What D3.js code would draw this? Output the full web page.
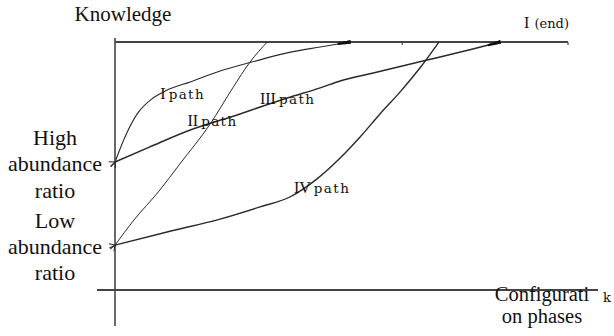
<!DOCTYPE html>
<html>
<head>
<meta charset="utf-8">
<script src="https://cdn.jsdelivr.net/npm/d3@7"></script>
<style>
  html, body { margin: 0; padding: 0; background: #fff; }
  svg { display: block; }
  .serif { font-family: "Liberation Serif", "Times New Roman", Times, "DejaVu Serif", serif; }
  .lab { font-family: "DejaVu Serif", "Liberation Serif", serif; }
</style>
</head>
<body>
<svg id="chart" width="614" height="336"></svg>
<script>
// ---- data (conceptual diagram, units 0..100 on both axes) ----
const pathI_x   = [0, 2.4, 4.9, 8.4, 11.5, 16.6, 23.2, 30.2, 38.0, 45.3, 51.9];
const pathI_y   = [51.6, 62.5, 71.0, 77.4, 80.6, 83.9, 88.3, 91.9, 95.6, 98.0, 100];
const pathB_x   = [0, 7.7, 16.6, 27.6, 32.7, 38.0, 45.3, 49.7, 57.0, 68.9, 79.0, 85.0];
const pathB_y   = [51.6, 57.7, 64.5, 71.0, 74.2, 77.4, 81.5, 84.3, 87.5, 92.7, 97.2, 100];
const pathC_x   = [0, 4.0, 9.9, 14.3, 21.0, 26.0, 29.8, 33.6];
const pathC_y   = [18.1, 27.8, 40.3, 50.8, 66.9, 81.5, 91.9, 100];
const pathIV_x  = [0, 11.5, 23.2, 32.0, 38.6, 44.6, 49.7, 54.1, 58.5, 62.9, 67.3, 71.5];
const pathIV_y  = [18.1, 23.4, 28.6, 33.5, 37.5, 44.8, 53.2, 61.7, 71.0, 79.8, 89.5, 100];
const endLine_x = [0, 100];
const endLine_y = [100, 100];
const endTicks  = [63.4, 100];

const pathLabels = [
  {num: "I",   word: "path", x: 10.0, y: 77.0},
  {num: "II",  word: "path", x: 16.0, y: 66.0},
  {num: "III", word: "path", x: 32.0, y: 75.0},
  {num: "IV",  word: "path", x: 39.5, y: 39.0}
];
const yLabelsHigh = ["High", "abundance", "ratio"];
const yLabelsLow  = ["Low", "abundance", "ratio"];
const xLabel = ["Configurati", "on phases"];
const yTitle = "Knowledge";
const endLabel = "I (end)";
const kLabel = "k";

// ---- drawing ----
const svg = d3.select("#chart");
const x = d3.scaleLinear().domain([0, 100]).range([115, 568]);
const y = d3.scaleLinear().domain([0, 100]).range([290, 42]);

const ink = "#2a2a2a";

const defs = svg.append("defs");
defs.append("marker").attr("id", "startArrow")
  .attr("viewBox", "0 0 10 10").attr("refX", 1).attr("refY", 5)
  .attr("markerWidth", 7).attr("markerHeight", 7)
  .attr("markerUnits", "userSpaceOnUse")
  .attr("orient", "auto-start-reverse")
  .append("path").attr("d", "M9,1 L1,5 L9,9").attr("fill", "none")
  .attr("stroke", ink).attr("stroke-width", 1.4);
defs.append("marker").attr("id", "endArrow")
  .attr("viewBox", "0 0 20 6").attr("refX", 19).attr("refY", 3)
  .attr("markerWidth", 14).attr("markerHeight", 4)
  .attr("markerUnits", "userSpaceOnUse")
  .attr("orient", "auto")
  .append("path").attr("d", "M0,1.5 L20,0 L20,6 L0,4.5 Z").attr("fill", "#111");

// axes
svg.append("line").attr("x1", 97).attr("x2", 598)
  .attr("y1", y(0)).attr("y2", y(0))
  .attr("stroke", "#444").attr("stroke-width", 2);
svg.append("line").attr("x1", x(0)).attr("x2", x(0))
  .attr("y1", 38).attr("y2", 326)
  .attr("stroke", "#444").attr("stroke-width", 1.6);

// end line (I end)
svg.append("line")
  .attr("x1", x(endLine_x[0])).attr("x2", x(endLine_x[1]))
  .attr("y1", y(endLine_y[0])).attr("y2", y(endLine_y[1]))
  .attr("stroke", "#444").attr("stroke-width", 2);
svg.selectAll(".etick").data(endTicks).enter().append("line")
  .attr("x1", d => x(d)).attr("x2", d => x(d))
  .attr("y1", y(100)).attr("y2", y(100) + 3)
  .attr("stroke", "#444").attr("stroke-width", 1.2);

const line = d3.line().x(d => x(d[0])).y(d => y(d[1])).curve(d3.curveMonotoneX);
const zip = (a, b) => a.map((v, i) => [v, b[i]]);

const series = [
  {xs: pathI_x,  ys: pathI_y,  w: 1.1, end: true},
  {xs: pathB_x,  ys: pathB_y,  w: 1.5, end: true},
  {xs: pathC_x,  ys: pathC_y,  w: 1.0, end: false},
  {xs: pathIV_x, ys: pathIV_y, w: 1.4, end: false}
];
series.forEach(s => {
  svg.append("path")
    .attr("d", line(zip(s.xs, s.ys)))
    .attr("fill", "none").attr("stroke", ink)
    .attr("stroke-width", s.w)
    .attr("marker-start", "url(#startArrow)")
    .attr("marker-end", s.end ? "url(#endArrow)" : null);
});

// path labels
const pl = svg.selectAll(".plabel").data(pathLabels).enter().append("text")
  .attr("class", "lab")
  .attr("x", d => x(d.x)).attr("y", d => y(d.y))
  .attr("font-size", 13.5)
  .attr("fill", "#111");
pl.append("tspan").text(d => d.num).attr("class", "serif").attr("font-size", 16);
pl.append("tspan").text(d => d.word).attr("dx", 3).attr("letter-spacing", 1.4);

// end label
const el = svg.append("text").attr("class", "lab").attr("x", 524).attr("y", 28)
  .attr("font-size", 13).attr("fill", "#111");
el.append("tspan").text("I").attr("class", "serif").attr("font-size", 16);
el.append("tspan").text(endLabel.slice(1)).attr("dx", 1);

// titles
svg.append("text").attr("class", "serif").attr("x", 123).attr("y", 21).attr("text-anchor", "middle")
  .attr("font-size", 21).attr("fill", "#111").text(yTitle);

const highBase = [145, 171, 198];
const lowBase  = [228, 254, 280];
svg.selectAll(".hl").data(yLabelsHigh).enter().append("text")
  .attr("class", "serif")
  .attr("x", 55).attr("y", (d, i) => highBase[i]).attr("text-anchor", "middle")
  .attr("font-size", 22).attr("fill", "#111").text(d => d);
svg.selectAll(".ll").data(yLabelsLow).enter().append("text")
  .attr("class", "serif")
  .attr("x", 55).attr("y", (d, i) => lowBase[i]).attr("text-anchor", "middle")
  .attr("font-size", 22).attr("fill", "#111").text(d => d);

const xBase = [301, 323];
svg.selectAll(".xl").data(xLabel).enter().append("text")
  .attr("class", "serif")
  .attr("x", 542).attr("y", (d, i) => xBase[i]).attr("text-anchor", "middle")
  .attr("font-size", 20.5).attr("fill", "#111").text(d => d);

svg.append("text").attr("class", "lab").attr("x", 607).attr("y", 302).attr("text-anchor", "middle")
  .attr("font-size", 13).attr("fill", "#111").text(kLabel);
</script>
</body>
</html>
